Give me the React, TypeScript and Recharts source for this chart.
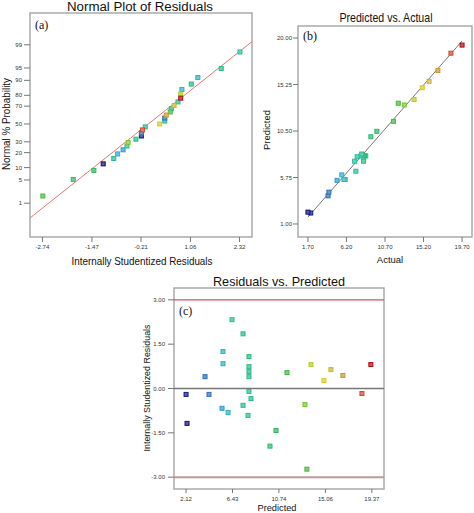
import React from 'react';
import { ScatterChart, Scatter, XAxis, YAxis, ReferenceLine, ReferenceArea } from 'recharts';

// ---- data (29 runs) ----
const predicted = [6.39, 7.41, 5.55, 5.55, 7.96, 7.96, 7.96, 7.96, 3.88, 11.49, 13.72, 14.92, 15.57, 16.68, 19.28, 2.12, 4.25, 5.46, 6.02, 2.21, 7.96, 8.15, 7.41, 7.87, 13.16, 10.47, 9.91, 13.34, 18.45];
const actual = [7.30, 8.20, 6.05, 5.90, 8.45, 8.30, 8.20, 8.12, 4.05, 11.70, 14.10, 15.05, 15.85, 16.88, 19.70, 2.03, 4.15, 5.10, 5.65, 1.70, 7.90, 7.98, 7.15, 7.45, 12.95, 9.75, 9.05, 12.25, 18.40];
const residuals = [2.33, 1.85, 1.25, 0.84, 1.08, 0.74, 0.57, 0.40, 0.40, 0.54, 0.81, 0.27, 0.64, 0.44, 0.81, -0.20, -0.20, -0.67, -0.81, -1.18, -0.10, -0.34, -0.57, -0.91, -0.54, -1.42, -1.95, -2.73, -0.17];
const normalPct = [98.28, 94.83, 91.38, 84.48, 87.93, 74.14, 67.24, 53.45, 56.90, 63.79, 81.03, 50.0, 70.69, 60.34, 77.59, 36.21, 39.66, 22.41, 18.97, 12.07, 46.55, 32.76, 25.86, 15.52, 29.31, 8.62, 5.17, 1.72, 43.10];

// tick labels
const probTicks = [1, 5, 10, 20, 30, 50, 70, 80, 90, 95, 99];
const residTicksA = [-2.74, -1.47, -0.21, 1.06, 2.32];
const actualTicks = [1.70, 6.20, 10.70, 15.20, 19.70];
const predTicksB = [1.00, 5.75, 10.50, 15.25, 20.00];
const predTicksC = [2.12, 6.43, 10.74, 15.06, 19.37];
const residTicksC = [-3.0, -1.5, 0.0, 1.5, 3.0];

// normal plot fit line (residual -> normal score)
const fitSlope = 0.909;
const fitIntercept = 0.02;
// residual limits
const limitHigh = 3.0;
const limitLow = -3.0;

// ---- helpers ----
function probit(p: number): number {
  const a = [-3.969683028665376e1, 2.209460984245205e2, -2.759285104469687e2, 1.38357751867269e2, -3.066479806614716e1, 2.506628277459239];
  const b = [-5.447609879822406e1, 1.615858368580409e2, -1.556989798598866e2, 6.680131188771972e1, -1.328068155288572e1];
  const c = [-7.784894002430293e-3, -3.223964580411365e-1, -2.400758277161838, -2.549671010229297, 4.374664141464968, 2.938163982698783];
  const d = [7.784695709041462e-3, 3.224671290700398e-1, 2.445134137142996, 3.754408661907416];
  const pl = 0.02425;
  if (p < pl) {
    const q = Math.sqrt(-2 * Math.log(p));
    return (((((c[0] * q + c[1]) * q + c[2]) * q + c[3]) * q + c[4]) * q + c[5]) / ((((d[0] * q + d[1]) * q + d[2]) * q + d[3]) * q + 1);
  }
  if (p <= 1 - pl) {
    const q = p - 0.5;
    const r = q * q;
    return ((((((a[0] * r + a[1]) * r + a[2]) * r + a[3]) * r + a[4]) * r + a[5]) * q) / (((((b[0] * r + b[1]) * r + b[2]) * r + b[3]) * r + b[4]) * r + 1);
  }
  const q = Math.sqrt(-2 * Math.log(1 - p));
  return -(((((c[0] * q + c[1]) * q + c[2]) * q + c[3]) * q + c[4]) * q + c[5]) / ((((d[0] * q + d[1]) * q + d[2]) * q + d[3]) * q + 1);
}

const stops: [number, [number, number, number]][] = [
  [1.7, [16, 16, 122]],
  [3.0, [26, 58, 156]],
  [4.1, [42, 112, 184]],
  [5.5, [52, 172, 204]],
  [6.6, [36, 190, 170]],
  [8.0, [36, 190, 140]],
  [10.0, [50, 182, 90]],
  [12.3, [76, 186, 60]],
  [13.3, [150, 200, 48]],
  [14.8, [216, 208, 40]],
  [16.8, [196, 158, 48]],
  [18.4, [208, 72, 40]],
  [19.7, [176, 10, 20]],
];
function colorFor(v: number): [number, number, number] {
  if (v <= stops[0][0]) return stops[0][1];
  for (let i = 1; i < stops.length; i++) {
    if (v <= stops[i][0]) {
      const [v0, c0] = stops[i - 1];
      const [v1, c1] = stops[i];
      const t = (v - v0) / (v1 - v0);
      return [0, 1, 2].map((k) => Math.round(c0[k] + (c1[k] - c0[k]) * t)) as [number, number, number];
    }
  }
  return stops[stops.length - 1][1];
}
const rgb = (c: number[]) => `rgb(${c[0]},${c[1]},${c[2]})`;
const lighten = (c: number[], t: number) => rgb(c.map((k) => Math.round(k + (255 - k) * t)));

const Square = (props: any) => {
  const { cx, cy, payload } = props;
  if (cx == null || cy == null) return null;
  const c = colorFor(payload.actual);
  return <rect x={cx - 2} y={cy - 2} width={4} height={4} fill={lighten(c, 0.3)} stroke={rgb(c)} strokeWidth={1} />;
};

const dataA = residuals.map((r, i) => ({ x: r, y: probit(normalPct[i] / 100), actual: actual[i] }));
const dataB = actual.map((a, i) => ({ x: a, y: predicted[i], actual: a }));
const dataC = predicted.map((p, i) => ({ x: p, y: residuals[i], actual: actual[i] }));

const FONT = 'Liberation Sans, Arial, sans-serif';
const tickStyle = { fontSize: 6, fill: '#333', fontFamily: FONT };
const tickLine = { stroke: '#777', strokeWidth: 1 };
const FRAME = '#aaaaaa';

const domA_x: [number, number] = [-3.06, 2.64];
const domA_y: [number, number] = [-3.32, 3.26];
const domB_x: [number, number] = [0.54, 20.86];
const domB_y: [number, number] = [-0.33, 21.23];
const domC_x: [number, number] = [1.0, 20.5];
const domC_y: [number, number] = [-3.4, 3.4];

const probTickVals = probTicks.map((p) => probit(p / 100));
const probLabel = (v: number) => {
  const i = probTickVals.findIndex((t) => Math.abs(t - v) < 1e-6);
  return i >= 0 ? String(probTicks[i]) : '';
};

const abs: React.CSSProperties = { position: 'absolute', left: 0, top: 0 };

export default function App() {
  return (
    <div style={{ position: 'absolute', left: 0, top: 0, width: 474, height: 513, background: '#fff', overflow: 'hidden' }}>
      {/* (a) Normal plot */}
      <div style={abs}>
        <ScatterChart width={474} height={513} margin={{ top: 13, right: 222, bottom: 256, left: 0 }}>
          <XAxis type="number" dataKey="x" domain={domA_x} ticks={residTicksA} tickFormatter={(v: number) => v.toFixed(2)} allowDataOverflow axisLine={false} tickLine={tickLine} tickSize={5} tickMargin={3} tick={tickStyle} height={20} interval={0} />
          <YAxis type="number" dataKey="y" domain={domA_y} ticks={probTickVals} tickFormatter={probLabel} allowDataOverflow axisLine={false} tickLine={tickLine} tickSize={6} tickMargin={2} tick={tickStyle} width={30} interval={0} />
          <ReferenceArea x1={domA_x[0]} x2={domA_x[1]} y1={domA_y[0]} y2={domA_y[1]} fill="none" stroke={FRAME} strokeWidth={1.5} />
          <ReferenceLine segment={[{ x: domA_x[0], y: fitSlope * domA_x[0] + fitIntercept }, { x: domA_x[1], y: fitSlope * domA_x[1] + fitIntercept }]} stroke="#e07878" strokeWidth={1} />
          <Scatter data={dataA} shape={Square} isAnimationActive={false} />
        </ScatterChart>
      </div>

      {/* (b) Predicted vs Actual */}
      <div style={abs}>
        <ScatterChart width={474} height={513} margin={{ top: 26, right: 2, bottom: 256, left: 268 }}>
          <XAxis type="number" dataKey="x" domain={domB_x} ticks={actualTicks} tickFormatter={(v: number) => v.toFixed(2)} allowDataOverflow axisLine={false} tickLine={tickLine} tickSize={5} tickMargin={3} tick={tickStyle} height={20} interval={0} />
          <YAxis type="number" dataKey="y" domain={domB_y} ticks={predTicksB} tickFormatter={(v: number) => v.toFixed(2)} allowDataOverflow axisLine={false} tickLine={tickLine} tickSize={5} tickMargin={1} tick={tickStyle} width={30} interval={0} />
          <ReferenceArea x1={domB_x[0]} x2={domB_x[1]} y1={domB_y[0]} y2={domB_y[1]} fill="none" stroke={FRAME} strokeWidth={1.5} />
          <ReferenceLine segment={[{ x: actualTicks[0], y: actualTicks[0] }, { x: actualTicks[4], y: actualTicks[4] }]} stroke="#777" strokeWidth={1} />
          <Scatter data={dataB} shape={Square} isAnimationActive={false} />
        </ScatterChart>
      </div>

      {/* (c) Residuals vs Predicted */}
      <div style={abs}>
        <ScatterChart width={474} height={513} margin={{ top: 288, right: 90, bottom: 4, left: 144 }}>
          <XAxis type="number" dataKey="x" domain={domC_x} ticks={predTicksC} tickFormatter={(v: number) => v.toFixed(2)} allowDataOverflow axisLine={false} tickLine={tickLine} tickSize={4} tickMargin={4} tick={tickStyle} height={20} interval={0} />
          <YAxis type="number" dataKey="y" domain={domC_y} ticks={residTicksC} tickFormatter={(v: number) => v.toFixed(2)} allowDataOverflow axisLine={false} tickLine={tickLine} tickSize={6} tickMargin={3} tick={tickStyle} width={30} interval={0} />
          <ReferenceArea x1={domC_x[0]} x2={domC_x[1]} y1={domC_y[0]} y2={domC_y[1]} fill="none" stroke={FRAME} strokeWidth={1.5} />
          <ReferenceLine y={limitHigh} stroke="#d05068" strokeWidth={1.3} />
          <ReferenceLine y={limitLow} stroke="#c09898" strokeWidth={2} />
          <ReferenceLine y={0} stroke="#777" strokeWidth={1.5} />
          <Scatter data={dataC} shape={Square} isAnimationActive={false} />
        </ScatterChart>
      </div>

      {/* titles & labels */}
      <svg style={abs} width={474} height={513}>
        <g fontFamily={FONT} fill="#111">
          <text x={140} y={11} fontSize={12.5} textAnchor="middle" textLength={146} lengthAdjust="spacingAndGlyphs">Normal Plot of Residuals</text>
          <text x={386} y={22} fontSize={13} textAnchor="middle" textLength={93} lengthAdjust="spacingAndGlyphs">Predicted vs. Actual</text>
          <text x={279} y={286} fontSize={13} textAnchor="middle" textLength={132} lengthAdjust="spacingAndGlyphs">Residuals vs. Predicted</text>
          <text x={142} y={265} fontSize={10} textAnchor="middle" textLength={141} lengthAdjust="spacingAndGlyphs">Internally Studentized Residuals</text>
          <text x={390} y={263} fontSize={9.5} textAnchor="middle">Actual</text>
          <text x={277} y={511} fontSize={9.5} textAnchor="middle" textLength={39} lengthAdjust="spacingAndGlyphs">Predicted</text>
          <text x={10} y={124} fontSize={10} textAnchor="middle" transform="rotate(-90, 10, 124)" textLength={92} lengthAdjust="spacingAndGlyphs">Normal % Probability</text>
          <text x={270} y={130} fontSize={9.5} textAnchor="middle" transform="rotate(-90, 270, 130)" textLength={40} lengthAdjust="spacingAndGlyphs">Predicted</text>
          <text x={150} y={388} fontSize={9} textAnchor="middle" transform="rotate(-90, 150, 388)" textLength={127} lengthAdjust="spacingAndGlyphs">Internally Studentized Residuals</text>
        </g>
        <g fontFamily="Liberation Serif, Times New Roman, serif" fill="#111" fontSize={12}>
          <text x={35} y={29}>(a)</text>
          <text x={303} y={40}>(b)</text>
          <text x={179} y={315}>(c)</text>
        </g>
      </svg>
    </div>
  );
}
